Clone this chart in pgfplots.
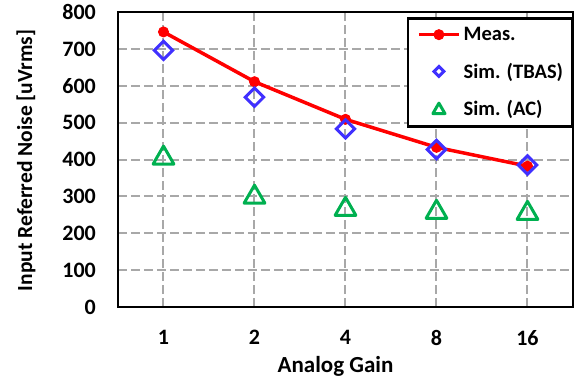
\documentclass[border=0pt]{standalone}
\usepackage{pgfplots}
\pgfplotsset{compat=1.18}
\usepackage{fontspec}
\setmainfont{Carlito}
\definecolor{measred}{RGB}{255,0,0}
\definecolor{simblue}{RGB}{64,48,255}
\definecolor{simgreen}{RGB}{0,176,80}
\definecolor{gridgray}{RGB}{168,168,168}
\pgfplotsset{
  measlegend/.style={legend image code/.code={\draw[##1, mark repeat=2, mark phase=2] plot coordinates {(0pt,0pt) (20pt,0pt) (40pt,0pt)};}},
  bluelegend/.style={legend image code/.code={\path (0pt,0pt) (40pt,0pt); \draw[##1, mark size=3.5pt] plot coordinates {(20pt,0pt)};}},
  greenlegend/.style={legend image code/.code={\path (0pt,0pt) (40pt,0pt); \draw[##1, mark size=7pt] plot coordinates {(20pt,2pt)};}},
}
\begin{document}
\begin{tikzpicture}
\begin{axis}[
  scale only axis,
  width=455pt, height=295pt,
  xmin=-0.5, xmax=4.5,
  ymin=0, ymax=800,
  xtick={0,1,2,3,4},
  xticklabels={1,2,4,8,16},
  ytick={0,100,...,800},
  major tick length=0pt,
  axis line style={line width=2pt, black},
  grid=major,
  major grid style={gridgray, line width=2pt, dash pattern=on 9pt off 4pt},
  /pgf/number format/assume math mode=true,
  ticklabel style={font=\bfseries\fontsize{22}{22}\selectfont, inner sep=0pt},
  xticklabel shift=23pt,
  yticklabel shift=22pt,
  xlabel={Analog Gain},
  ylabel={Input Referred Noise [uVrms]},
  xlabel style={font=\bfseries\fontsize{23}{23}\selectfont, inner sep=0pt,
    at={(axis description cs:0.5,0)}, anchor=center, yshift=-59pt, xshift=-10pt},
  ylabel style={font=\bfseries\fontsize{21.5}{21.5}\selectfont, inner sep=0pt,
    at={(axis description cs:0,0.5)}, anchor=center, yshift=92pt, xshift=-1pt},
  legend style={at={(rel axis cs:0.635,0.983)}, anchor=north west, draw=black, line width=2.5pt,
    font=\bfseries\fontsize{20.5}{20.5}\selectfont, row sep=21pt, inner xsep=9pt, inner ysep=9pt,
    nodes={inner sep=0pt}, column sep=3pt},
  legend cell align=left,
  clip=false,
]
\addplot[color=measred, line width=3.5pt, mark=*, mark size=5pt, mark options={solid, line width=1pt}, measlegend]
  coordinates {(0,746) (1,611) (2,509) (3,433) (4,382)};
\addlegendentry{Meas.}
\addplot[only marks, color=simblue, mark=square, mark size=6.5pt, mark options={rotate=45, line width=3pt}, bluelegend]
  coordinates {(0,696) (1,569) (2,483) (3,427) (4,385)};
\addlegendentry{Sim. (TBAS)}
\addplot[only marks, color=simgreen, mark=triangle, mark size=12pt, mark options={line width=3pt, line join=round, yshift=-3pt}, greenlegend]
  coordinates {(0,412) (1,306) (2,273) (3,265) (4,262)};
\addlegendentry{Sim. (AC)}
\coordinate (O) at (rel axis cs:0,0);
\end{axis}
\pgfresetboundingbox
\path (O) ++(-118pt,-74pt) rectangle ++(579pt,381pt);
\end{tikzpicture}
\end{document}
